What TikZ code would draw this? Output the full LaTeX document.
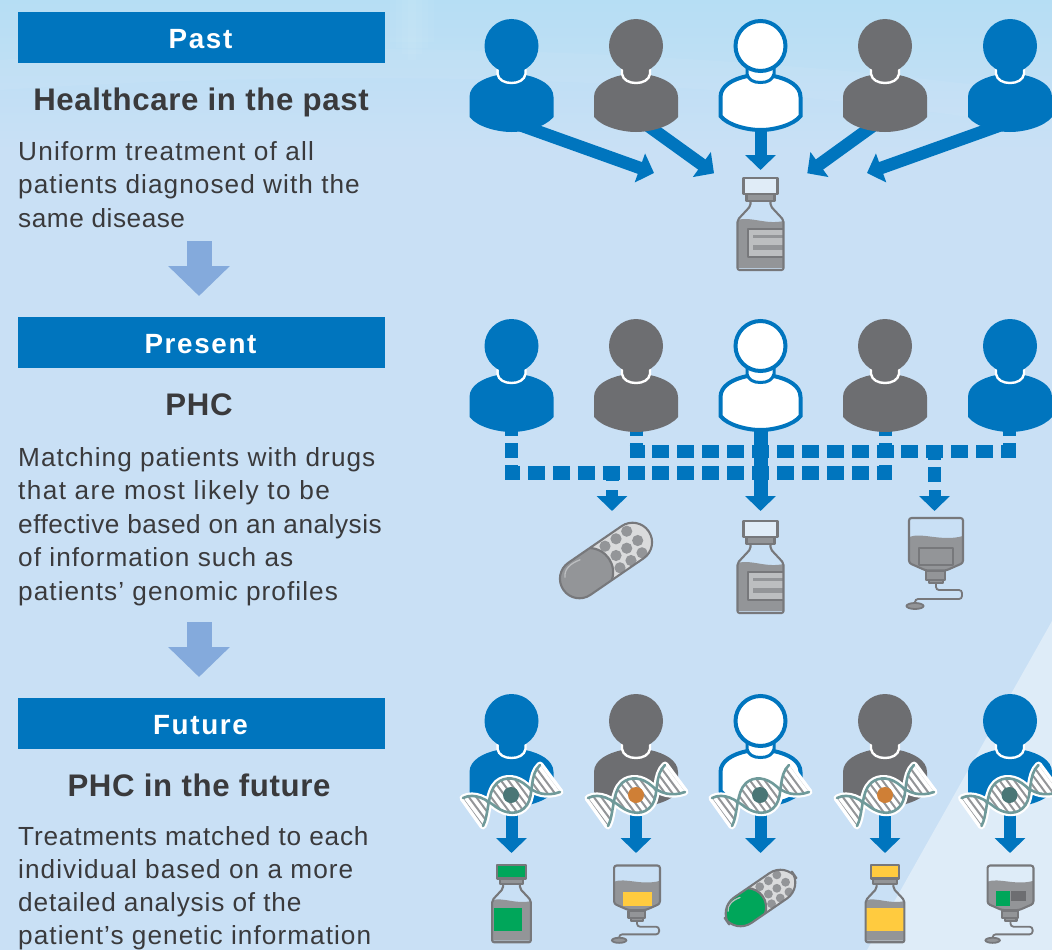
\documentclass[tikz,border=0pt]{standalone}
\usepackage{fontspec}
\setmainfont{Liberation Sans}
\usetikzlibrary{arrows.meta,calc}
\definecolor{bgbase}{HTML}{C9E0F5}
\definecolor{bgtop}{HTML}{B6DEF4}
\definecolor{bgtri}{HTML}{DEECF8}
\definecolor{mainblue}{HTML}{0075BE}
\definecolor{softblue}{HTML}{84AADC}
\definecolor{persgrey}{HTML}{6D6E71}
\definecolor{liquid}{HTML}{939598}
\definecolor{edgegrey}{HTML}{77787B}
\definecolor{labelgrey}{HTML}{BCBEC0}
\definecolor{capfill}{HTML}{E0ECF7}
\definecolor{txt}{HTML}{3A3A3C}
\definecolor{strand}{HTML}{6F9A9A}
\definecolor{dottealc}{HTML}{4A7676}
\definecolor{dotorange}{HTML}{CF7F36}
\definecolor{medgreen}{HTML}{00A65A}
\definecolor{medyellow}{HTML}{FFCB3F}
\newcommand{\lsp}[2]{{\addfontfeatures{LetterSpace=#1}#2}}
\tikzset{
  x=1pt,y=-1pt,
  header/.style={inner sep=0pt,text=white,anchor=base,font=\fontsize{27.8}{30}\selectfont\bfseries\addfontfeatures{LetterSpace=6}},
  headbar/.style={fill=mainblue,draw=none},
  headline/.style={inner sep=0pt,text=txt,anchor=base,font=\fontsize{31.2}{34}\selectfont\bfseries\addfontfeatures{LetterSpace=2}},
  para/.style={inner sep=0pt,text=txt,align=left,anchor=north west,font=\fontsize{26.2}{33.6}\selectfont\addfontfeatures{LetterSpace=4}},
  paratight/.style={para,font=\fontsize{26.2}{33}\selectfont\addfontfeatures{LetterSpace=4}},
  bigarrow/.style={softblue,line width=25pt,-{Triangle[length=30pt,width=60pt]}},
  solidarrow/.style={mainblue,line width=12pt,-{Triangle[length=15pt,width=30pt]}},
  widearrow/.style={mainblue,line width=14pt,-{Triangle[length=15pt,width=30pt]}},
  slantarrow/.style={mainblue,line width=12.5pt,-{Triangle[length=15pt,width=30pt]}},
  hdash/.style={mainblue,line width=13.5pt,dash pattern=on 17pt off 7.9pt,dash phase=2pt},
  vdash/.style={mainblue,line width=13pt,dash pattern=on 15pt off 7pt},
  vsolid/.style={mainblue,line width=13pt},
  icoline/.style={draw=edgegrey,line width=2.1pt,line join=round},
}
% person: name, cx, cy, colour
\newcommand{\personicon}[4]{%
  \coordinate (#1) at (#2,#3);
  \begin{scope}[shift={(#2,#3)}]
    \fill[#4] (-42,51) .. controls (-42,39) and (-28,32) .. (-14,29) -- (14,29) .. controls (28,32) and (42,39) .. (42,51) -- (42,71) .. controls (34,81) and (14,86) .. (0,86) .. controls (-14,86) and (-34,81) .. (-42,71) -- cycle;
    \fill[#4] (-13,22) rectangle (13,34);
    \draw[white,line width=2.4pt] (-14,23) -- (-14,28) .. controls (-13,34) and (-7,37) .. (0,37) .. controls (7,37) and (13,34) .. (14,28) -- (14,23);
    \fill[#4] (0,0) circle[radius=27];
  \end{scope}}
\newcommand{\whiteperson}[3]{%
  \coordinate (#1) at (#2,#3);
  \begin{scope}[shift={(#2,#3)}]
    \draw[mainblue,fill=white,line width=4pt] (-40,51) .. controls (-40,40) and (-28,33) .. (-13,30) -- (13,30) .. controls (28,33) and (40,40) .. (40,51) -- (40,70) .. controls (33,79) and (14,84) .. (0,84) .. controls (-14,84) and (-33,79) .. (-40,70) -- cycle;
    \draw[mainblue,fill=white,line width=3pt] (-13.5,20) -- (-13.5,28) .. controls (-12,34) and (-7,36.5) .. (0,36.5) .. controls (7,36.5) and (12,34) .. (13.5,28) -- (13.5,20);
    \draw[mainblue,fill=white,line width=4pt] (0,0) circle[radius=25];
  \end{scope}}
% dna: name, cx, cy, dot colour
\newcommand{\dnaicon}[4]{%
  \coordinate (#1) at (#2,#3);
  \begin{scope}[shift={(#2,#3)}]
    \def\dnashape{(-48,3) .. controls (-36,-3) and (-24,5) .. (-15,12) .. controls (-5,19) and (8,21) .. (16,10) .. controls (23,0) and (18,-20) .. (29,-30) -- (49,-3) .. controls (35,2) and (24,-2) .. (16,-9) .. controls (6,-18) and (-6,-19) .. (-14,-12) .. controls (-24,-3) and (-22,20) .. (-28,31) -- cycle}
    \fill[white,draw=white,line width=7pt,line join=round] \dnashape;
    \begin{scope}
      \clip \dnashape;
      \foreach \k in {-9,...,9}{
        \draw[liquid,line width=2pt] ($(\k*7.4,-1)+(-37,-50)$) -- ($(\k*7.4,-1)+(37,50)$);
      }
    \end{scope}
    \draw[strand,line width=2.6pt,line cap=round] (-48,3) .. controls (-36,-3) and (-24,5) .. (-15,12) .. controls (-5,19) and (8,21) .. (16,10) .. controls (23,0) and (18,-20) .. (29,-30);
    \draw[strand,line width=2.6pt,line cap=round] (-28,31) .. controls (-22,20) and (-24,-3) .. (-14,-12) .. controls (-6,-19) and (6,-18) .. (16,-9) .. controls (24,-2) and (35,2) .. (49,-3);
    \fill[#4] (0,0) circle[radius=8];
  \end{scope}}
% bottle: name, cx, top, scale, cap fill, label code
\newcommand{\bottleicon}[6]{%
  \coordinate (#1) at (#2,#3);
  \begin{scope}[shift={(#2,#3)},scale=#4]
    \fill[liquid] (-23,42) .. controls (-10,38) and (5,47) .. (23,43) -- (23,90) -- (-23,90) -- cycle;
    #6
    \draw[icoline,rounded corners=2pt] (-10,23) -- (-10,28) -- (-23,42) -- (-23,92) -- (23,92) -- (23,42) -- (10,28) -- (10,23);
    \draw[icoline,fill=liquid] (-14,16) rectangle (14,23);
    \draw[icoline,fill=#5] (-17,0) rectangle (17,16);
  \end{scope}}
\newcommand{\bottlelabel}{%
  \draw[icoline,fill=labelgrey] (23,51) -- (-12.5,51) -- (-12.5,79) -- (23,79);
  \fill[liquid] (-8,57) rectangle (22,60);
  \fill[liquid] (-8,67) rectangle (22,72);}
% bag: name, cx, top, scale, label code
\newcommand{\bagicon}[5]{%
  \coordinate (#1) at (#2,#3);
  \begin{scope}[shift={(#2,#3)},scale=#4]
    \fill[liquid] (-27,19) .. controls (-14,14) and (6,24) .. (27,18) -- (27,45) -- (10,53) -- (-10,53) -- (-27,45) -- cycle;
    #5
    \draw[icoline,rounded corners=2.5pt] (-27,0) -- (27,0) -- (27,45) -- (10,52.5) -- (-10,52.5) -- (-27,45) -- cycle;
    \draw[icoline,fill=liquid] (-10,53) rectangle (9,62);
    \draw[icoline,fill=liquid] (-7,62) rectangle (7,65);
    \draw[edgegrey,line width=1.8pt,rounded corners=3pt] (0,65) -- (0,72) -- (26,72) -- (26,81) -- (-21,81) -- (-21,86);
    \draw[edgegrey,fill=liquid,line width=1.8pt] (-21,88) ellipse[x radius=8.5,y radius=3];
  \end{scope}}
% pill: name, cx, cy, scale, half colour, highlight colour
\newcommand{\pillicon}[6]{%
  \coordinate (#1) at (#2,#3);
  \begin{scope}[shift={(#2,#3)},scale=#4]
    \begin{scope}
      \path[clip,rotate=34.5,rounded corners=19.4pt] (-51.7,-19.5) rectangle (51.7,19.5);
      \fill[rotate=34.5,fill=labelgrey!55!white] (-52,-20) rectangle (52,20);
      \foreach \dx/\dy in {20.7/-29.3,10/-21.7,31.7/-20,-1/-14.3,20.7/-12.3,36/-7.7,10/-5,25/0,14/7.3}{
        \fill[liquid] (\dx,\dy) circle[radius=5.6];
      }
      \fill[rotate=34.5,#5] (-55,-21) -- (-7,-21) .. controls (7,-10) and (7,10) .. (-7,21) -- (-55,21) -- cycle;
      \draw[rotate=34.5,edgegrey,line width=2.2pt] (-7,-20) .. controls (7,-10) and (7,10) .. (-7,20);
    \end{scope}
    \draw[#6,line width=1.3pt,line cap=round] (-41,16.7) .. controls (-42,9) and (-36,3) .. (-26,-0.7);
    \draw[icoline,rotate=34.5,rounded corners=19.4pt] (-51.7,-19.5) rectangle (51.7,19.5);
  \end{scope}}
\begin{document}
\begin{tikzpicture}
\useasboundingbox (0,0) rectangle (1052,950);
\fill[bgbase] (0,0) rectangle (1052,950);
\shade[top color=bgtop,bottom color=bgbase] (0,0) rectangle (1052,150);
\foreach \w in {4,10,16,22}{\fill[white,opacity=0.035] ({412-\w},0) rectangle ({412+\w},{64-\w});}
\fill[white,opacity=0.05] (0,60) .. controls (300,40) and (700,45) .. (1052,95) -- (1052,130) .. controls (700,70) and (300,70) .. (0,90) -- cycle;
\fill[bgtri] (1052,621) -- (867,950) -- (1052,950) -- cycle;

% left column
\fill[headbar] (18,12) rectangle (385,63);
\fill[headbar] (18,317) rectangle (385,368);
\fill[headbar] (18,698) rectangle (385,749);
\node[header] (hPast) at (200.5,48.3) {Past};
\node[header] (hPresent) at (200.5,353.5) {Present};
\node[header] (hFuture) at (200.5,734.5) {Future};
\node[headline] (tPast) at (201,110.5) {Healthcare in the past};
\node[headline] (tPresent) at (199,415.5) {PHC};
\node[headline] (tFuture) at (199,796.5) {PHC in the future};
\node[para] (dPast) at (18,141) {\lsp{4.5}{Uniform treatment of all}\\patients diagnosed with the\\\lsp{2}{same disease}};
\node[para] (dPresent) at (18,447) {Matching patients with drugs\\\lsp{5.3}{that are most likely to be}\\\lsp{2}{effective based on an analysis}\\of information such as\\patients’ genomic profiles};
\node[paratight] (dFuture) at (18,826.5) {\lsp{3.1}{Treatments matched to each}\\individual based on a more\\\lsp{3.2}{detailed analysis of the}\\patient’s genetic information};
\coordinate (aS1) at (199,241); \coordinate (aE1) at (199,296);
\coordinate (aS2) at (199,622); \coordinate (aE2) at (199,677);
\draw[bigarrow] (aS1) -- (aE1);
\draw[bigarrow] (aS2) -- (aE2);

% row 1 connectors
\coordinate (s11) at (505,119.7); \coordinate (t11) at (654,173);
\coordinate (s12) at (630,112.8); \coordinate (t12) at (714,173.3);
\coordinate (s13) at (760.5,128); \coordinate (t13) at (760.5,170);
\coordinate (s14) at (891,112.8); \coordinate (t14) at (807.3,173.3);
\coordinate (s15) at (1016,119.7); \coordinate (t15) at (867,173);
\draw[slantarrow] (s11) -- (t11);
\draw[slantarrow] (s12) -- (t12);
\draw[solidarrow] (s13) -- (t13);
\draw[slantarrow] (s14) -- (t14);
\draw[slantarrow] (s15) -- (t15);

% row 2 connectors
\coordinate (hA) at (505,473); \coordinate (hB) at (891,473);
\coordinate (hC) at (629.5,451.5); \coordinate (hD) at (1016,451.5);
\draw[hdash] (hA) -- (hB);
\draw[hdash] (hC) -- (hD);
\coordinate (v1a) at (511.5,421); \coordinate (v1b) at (511.5,480);
\coordinate (v2a) at (636,421); \coordinate (v2b) at (636,458);
\coordinate (v4a) at (885,421); \coordinate (v4b) at (885,480);
\coordinate (v5a) at (1009,421); \coordinate (v5b) at (1009,458);
\draw[vdash] (v1a) -- (v1b);
\draw[vdash] (v2a) -- (v2b);
\draw[vdash] (v4a) -- (v4b);
\draw[vdash] (v5a) -- (v5b);
\coordinate (d1a) at (612,466); \coordinate (d1b) at (612,481);
\draw[vsolid] (d1a) -- (d1b);
\coordinate (d2a) at (934.5,445); \coordinate (d2b) at (934.5,482);
\draw[vdash] (d2a) -- (d2b);
\coordinate (e1a) at (612,490); \coordinate (e1b) at (612,511);
\coordinate (e2a) at (934.5,490); \coordinate (e2b) at (934.5,511);
\coordinate (e3a) at (760.5,428); \coordinate (e3b) at (760.5,511);
\draw[solidarrow] (e1a) -- (e1b);
\draw[solidarrow] (e2a) -- (e2b);
\draw[widearrow] (e3a) -- (e3b);

% row 3 connectors
\foreach \k/\xx in {1/511.5,2/636,3/760.5,4/885,5/1010}{
  \coordinate (f\k a) at (\xx,800); \coordinate (f\k b) at (\xx,853);
  \draw[solidarrow] (f\k a) -- (f\k b);
}

% people
\personicon{pA1}{511.5}{46}{mainblue}
\personicon{pA2}{636}{46}{persgrey}
\whiteperson{pA3}{760.5}{46}
\personicon{pA4}{885}{46}{persgrey}
\personicon{pA5}{1010}{46}{mainblue}
\personicon{pB1}{511.5}{346}{mainblue}
\personicon{pB2}{636}{346}{persgrey}
\whiteperson{pB3}{760.5}{346}
\personicon{pB4}{885}{346}{persgrey}
\personicon{pB5}{1010}{346}{mainblue}
\personicon{pC1}{511.5}{721}{mainblue}
\personicon{pC2}{636}{721}{persgrey}
\whiteperson{pC3}{760.5}{721}
\personicon{pC4}{885}{721}{persgrey}
\personicon{pC5}{1010}{721}{mainblue}

% dna
\dnaicon{dn1}{511}{795}{dottealc}
\dnaicon{dn2}{636}{795}{dotorange}
\dnaicon{dn3}{760}{795}{dottealc}
\dnaicon{dn4}{885}{795}{dotorange}
\dnaicon{dn5}{1009.5}{795}{dottealc}

% medicines
\bottleicon{mA}{760.5}{178}{1}{capfill}{\bottlelabel}
\pillicon{mB1}{606}{560.5}{1}{liquid}{labelgrey}
\bottleicon{mB2}{760.5}{521}{1}{capfill}{\bottlelabel}
\bagicon{mB3}{936}{518}{1}{\draw[icoline,fill=liquid] (-17,30) rectangle (17,47);}
\bottleicon{mC1}{511.5}{865}{0.84}{medgreen}{\fill[medgreen] (-20.8,51) rectangle (12.5,79);}
\bagicon{mC2}{637}{865.5}{0.85}{\fill[medyellow] (-16.5,31) rectangle (17.6,47.6);}
\pillicon{mC3}{760.5}{898}{0.79}{medgreen}{labelgrey}
\bottleicon{mC4}{885}{865}{0.84}{medyellow}{\fill[medyellow] (-23,51) rectangle (23,79);}
\bagicon{mC5}{1010.5}{865.5}{0.85}{\fill[medgreen] (-17,30) rectangle (-1,47.6); \fill[persgrey] (1,30) rectangle (18,42);}
\end{tikzpicture}
\end{document}
